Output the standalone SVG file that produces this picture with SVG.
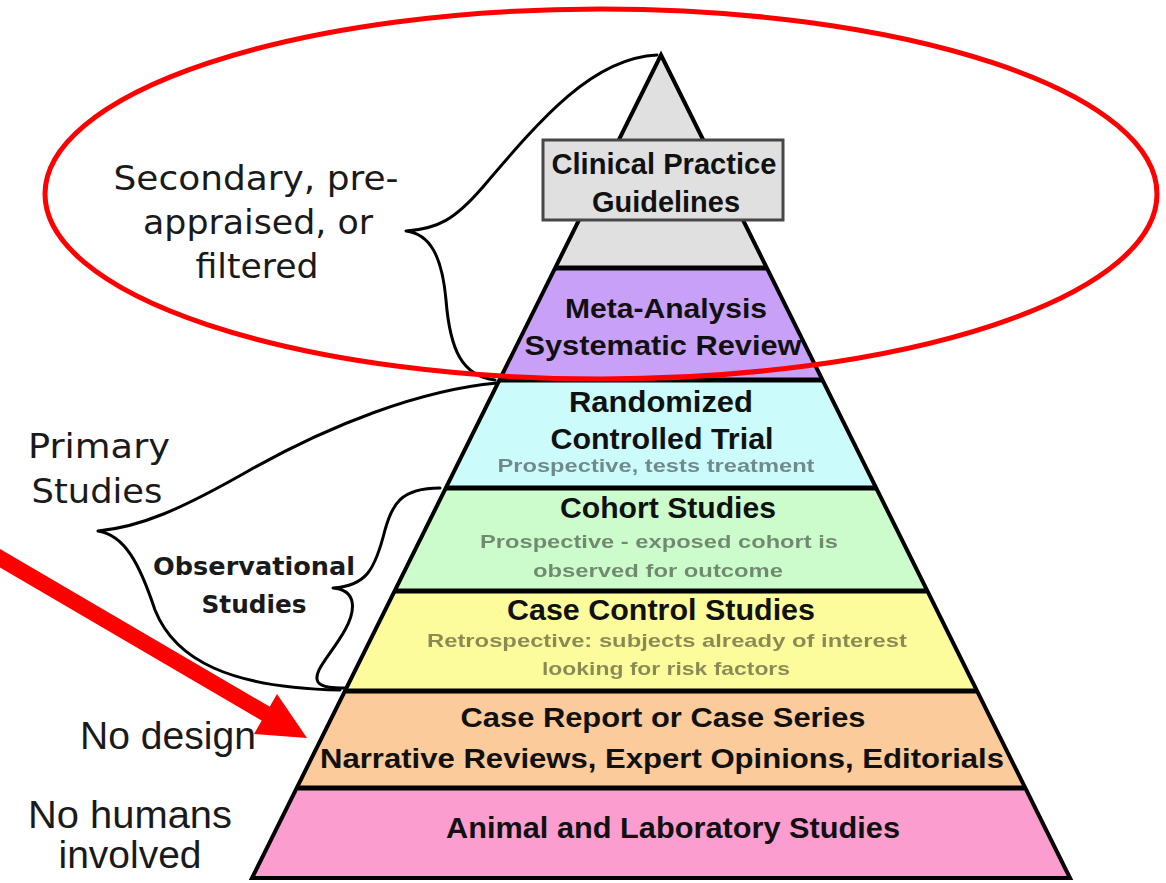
<svg xmlns="http://www.w3.org/2000/svg" width="1166" height="883" viewBox="0 0 1166 883">
  <style>
    .band { stroke: none; }
    .tier { font-family: "Liberation Sans", Arial, sans-serif; font-weight: bold; fill: #111; text-anchor: middle; }
    .sub { font-family: "Liberation Sans", Arial, sans-serif; font-weight: bold; fill: #000; fill-opacity: 0.45; text-anchor: middle; }
    .side { font-family: "DejaVu Sans", Verdana, sans-serif; fill: #1a1a1a; text-anchor: middle; }
    .narrow { font-family: "Liberation Sans", Arial, sans-serif; fill: #1a1a1a; text-anchor: middle; }
    .brace { fill: none; stroke: #000; stroke-width: 3; stroke-linecap: round; stroke-linejoin: round; }
    .divider { stroke: #000; stroke-width: 5; }
  </style>
  <defs>
    <filter id="soft" x="-5%" y="-20%" width="110%" height="140%">
      <feGaussianBlur stdDeviation="0.6"/>
    </filter>
  </defs>
  <rect width="1166" height="883" fill="#fff"/>

  <!-- pyramid tiers, top to bottom -->
  <g id="tier-apex">
    <polygon class="band" points="661,55 556,268 766,268" fill="#e0e0e0"/>
  </g>
  <g id="tier-meta">
    <polygon class="band" points="556,268 766,268 822,380 500,380" fill="#c9a0f7"/>
    <text class="tier" x="666" y="318" font-size="28" textLength="202" lengthAdjust="spacingAndGlyphs">Meta-Analysis</text>
    <text class="tier" x="663" y="355" font-size="28" textLength="277" lengthAdjust="spacingAndGlyphs">Systematic Review</text>
  </g>
  <g id="tier-rct">
    <polygon class="band" points="500,380 822,380 876,488 446,488" fill="#ccfbfc"/>
    <text class="tier" x="661" y="412" font-size="29" textLength="184" lengthAdjust="spacingAndGlyphs">Randomized</text>
    <text class="tier" x="662" y="449" font-size="29" textLength="223" lengthAdjust="spacingAndGlyphs">Controlled Trial</text>
    <text class="sub" x="656" y="472" font-size="18" textLength="317" lengthAdjust="spacingAndGlyphs" filter="url(#soft)">Prospective, tests treatment</text>
  </g>
  <g id="tier-cohort">
    <polygon class="band" points="446,488 876,488 927,591 395,591" fill="#ccfccc"/>
    <text class="tier" x="668" y="518" font-size="29" textLength="216" lengthAdjust="spacingAndGlyphs">Cohort Studies</text>
    <text class="sub" x="659" y="548" font-size="19" textLength="358" lengthAdjust="spacingAndGlyphs" filter="url(#soft)">Prospective - exposed cohort is</text>
    <text class="sub" x="658" y="577" font-size="19" textLength="250" lengthAdjust="spacingAndGlyphs" filter="url(#soft)">observed for outcome</text>
  </g>
  <g id="tier-case-control">
    <polygon class="band" points="395,591 927,591 976,691 346,691" fill="#fcfc9c"/>
    <text class="tier" x="661" y="620" font-size="29" textLength="308" lengthAdjust="spacingAndGlyphs">Case Control Studies</text>
    <text class="sub" x="667" y="647" font-size="19" textLength="480" lengthAdjust="spacingAndGlyphs" filter="url(#soft)">Retrospective: subjects already of interest</text>
    <text class="sub" x="666" y="675" font-size="19" textLength="248" lengthAdjust="spacingAndGlyphs" filter="url(#soft)">looking for risk factors</text>
  </g>
  <g id="tier-case-report">
    <polygon class="band" points="346,691 976,691 1024,788 298,788" fill="#fbcb9b"/>
    <text class="tier" x="663" y="727" font-size="28" textLength="405" lengthAdjust="spacingAndGlyphs">Case Report or Case Series</text>
    <text class="tier" x="662" y="768" font-size="28" textLength="684" lengthAdjust="spacingAndGlyphs">Narrative Reviews, Expert Opinions, Editorials</text>
  </g>
  <g id="tier-animal">
    <polygon class="band" points="298,788 1024,788 1070,878 252,878" fill="#fb9dcf"/>
    <text class="tier" x="673" y="838" font-size="30" textLength="454" lengthAdjust="spacingAndGlyphs">Animal and Laboratory Studies</text>
  </g>

  <!-- tier dividers and outline -->
  <g id="pyramid-frame">
    <line class="divider" x1="556" y1="268" x2="766" y2="268"/>
    <line class="divider" x1="500" y1="380" x2="822" y2="380"/>
    <line class="divider" x1="446" y1="488" x2="876" y2="488"/>
    <line class="divider" x1="395" y1="591" x2="927" y2="591"/>
    <line class="divider" x1="346" y1="691" x2="976" y2="691"/>
    <line class="divider" x1="298" y1="788" x2="1024" y2="788"/>
    <polygon points="661,55 1070,878 252,878" fill="none" stroke="#000" stroke-width="4"/>
  </g>

  <!-- guideline box sits over the apex outline -->
  <g id="tier-guidelines">
    <rect x="543" y="140" width="240" height="80" fill="#e0e0e0" stroke="#474747" stroke-width="3"/>
    <text class="tier" x="664" y="174" font-size="29" textLength="225" lengthAdjust="spacingAndGlyphs">Clinical Practice</text>
    <text class="tier" x="666" y="212" font-size="29" textLength="148" lengthAdjust="spacingAndGlyphs">Guidelines</text>
  </g>

  <!-- side labels -->
  <g id="label-secondary">
    <text class="side" x="256" y="190" font-size="33" textLength="285" lengthAdjust="spacingAndGlyphs">Secondary, pre-</text>
    <text class="side" x="258" y="234" font-size="33" textLength="230" lengthAdjust="spacingAndGlyphs">appraised, or</text>
    <text class="side" x="257" y="278" font-size="33" textLength="123" lengthAdjust="spacingAndGlyphs">filtered</text>
  </g>
  <g id="label-primary">
    <text class="side" x="99" y="458" font-size="33" textLength="142" lengthAdjust="spacingAndGlyphs">Primary</text>
    <text class="side" x="97" y="503" font-size="33" textLength="131" lengthAdjust="spacingAndGlyphs">Studies</text>
  </g>
  <g id="label-observational">
    <text class="side" x="254" y="575" font-size="25" font-weight="bold" textLength="202" lengthAdjust="spacingAndGlyphs">Observational</text>
    <text class="side" x="254" y="613" font-size="25" font-weight="bold" textLength="105" lengthAdjust="spacingAndGlyphs">Studies</text>
  </g>
  <g id="label-no-design">
    <text class="narrow" x="168" y="749" font-size="38" textLength="176" lengthAdjust="spacingAndGlyphs">No design</text>
  </g>
  <g id="label-no-humans">
    <text class="narrow" x="130" y="828" font-size="38" textLength="204" lengthAdjust="spacingAndGlyphs">No humans</text>
    <text class="narrow" x="130" y="868" font-size="38" textLength="143" lengthAdjust="spacingAndGlyphs">involved</text>
  </g>

  <!-- braces, highlight ring and pointer -->
  <g id="connectors">
    <path class="brace" d="M657,55 C592,58 540,120 482,188 C455,219 438,229 406,231 C430,234 442,256 446,300 C450,350 462,376 495,380"/>
    <path class="brace" d="M497,383 C420,390 330,425 250,470 C180,510 140,527 98,531 C125,535 140,565 155,610 C175,660 230,688 340,690"/>
    <path class="brace" d="M440,488 C400,488 392,505 385,530 C375,570 366,586 333,588 C357,590 356,610 345,630 C331,655 312,672 318,682 C322,688 335,688 345,688"/>
    <ellipse cx="601" cy="194" rx="556" ry="185" fill="none" stroke="#f00" stroke-width="5"/>
    <line x1="-4" y1="556" x2="268" y2="715" stroke="#f00" stroke-width="16"/>
    <polygon points="307,738 277,694 254,734" fill="#f00"/>
  </g>
</svg>
